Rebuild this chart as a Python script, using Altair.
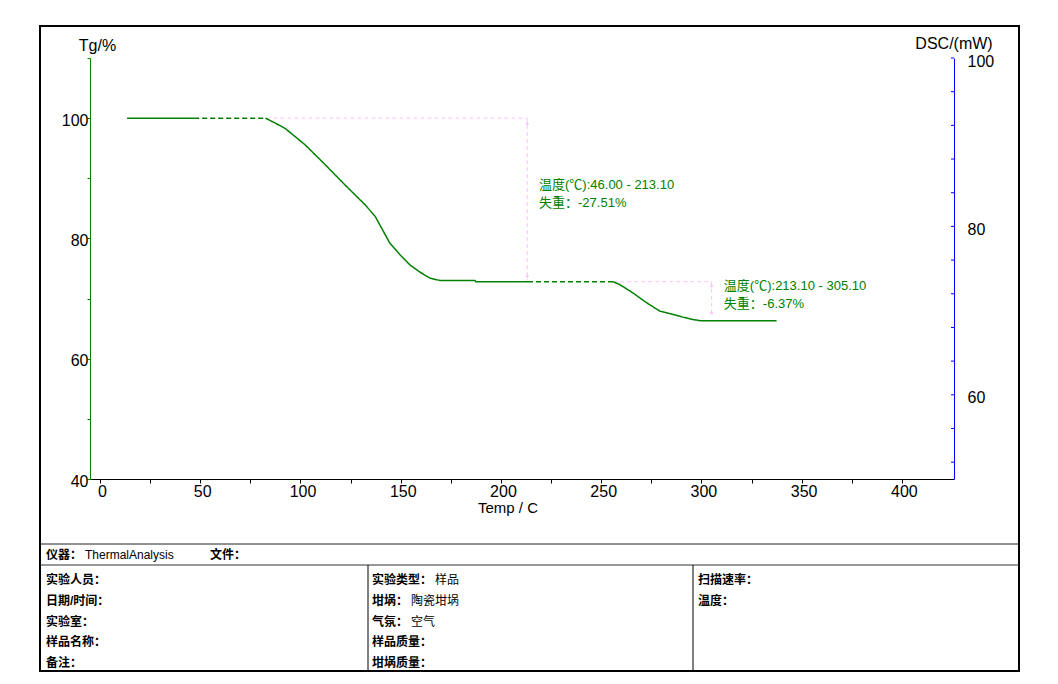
import altair as alt
import pandas as pd

# ---------------- data ----------------
# Tg curve, split in solid / dashed pieces (Temp in C, Tg in %)
seg1_T = [13.5, 47.0]
seg1_Tg = [100.0, 100.0]
seg2_T = [47.0, 82.5]
seg2_Tg = [100.0, 100.0]
seg3_T = [82.5, 87.3, 92.3, 102.2, 112.2, 117.2, 122.2, 132.2, 137.2, 140.5,
          144.6, 149.6, 154.6, 159.6, 164.6, 169.6, 187.0, 187.5, 213.5]
seg3_Tg = [100.0, 99.2, 98.3, 95.6, 92.3, 90.6, 88.9, 85.6, 83.7, 81.7,
           79.2, 77.3, 75.6, 74.4, 73.4, 73.0, 73.0, 72.8, 72.8]
seg4_T = [213.5, 256.0]
seg4_Tg = [72.8, 72.8]
seg5_T = [256.0, 259.4, 266.0, 272.7, 279.3, 284.3, 290.9, 296.0, 300.0, 337.5]
seg5_Tg = [72.8, 72.3, 70.9, 69.3, 67.9, 67.5, 66.9, 66.5, 66.3, 66.3]
seg_styles = ["solid", "dash", "solid", "dash", "solid"]

# pink step guides of the two weight-loss steps
guide_T = [[83.0, 213.1], [213.1, 213.1], [256.0, 305.1], [305.1, 305.1]]
guide_Tg = [[100.0, 100.0], [100.0, 73.0], [72.8, 72.8], [72.8, 67.3]]
marker_T = [213.1, 213.1, 305.1, 305.1]
marker_Tg = [99.1, 73.7, 72.1, 67.6]

# annotations
annot_T = [219.0, 219.0, 311.2, 311.2]
annot_Tg = [88.9, 85.9, 72.1, 69.1]
annot_text = ["温度(℃):46.00 - 213.10", "失重：-27.51%",
              "温度(℃):213.10 - 305.10", "失重：-6.37%"]

# axes
x_ticks = list(range(0, 401, 25))
tg_ticks = list(range(40, 111, 10))
dsc_ticks = [52, 56, 60, 64, 68, 72, 76, 80, 84, 88, 92, 96, 100]
dsc_labels = [60, 80, 100]

# info table
head_labels = ["仪器：", "文件："]
head_values = ["ThermalAnalysis", ""]
col1_labels = ["实验人员：", "日期/时间：", "实验室：", "样品名称：", "备注："]
col1_values = ["", "", "", "", ""]
col2_labels = ["实验类型：", "坩埚：", "气氛：", "样品质量：", "坩埚质量："]
col2_values = ["样品", "陶瓷坩埚", "空气", "", ""]
col3_labels = ["扫描速率：", "温度："]
col3_values = ["", ""]

GREEN = "#008000"
PINK = "#ffc0ff"
BLUE = "#0000ff"
LAT = "Liberation Sans"
CJK = "Liberation Sans, Noto Sans CJK SC"

# ---------------- build tables ----------------
rows = []
for i, (ts, gs) in enumerate([(seg1_T, seg1_Tg), (seg2_T, seg2_Tg), (seg3_T, seg3_Tg),
                              (seg4_T, seg4_Tg), (seg5_T, seg5_Tg)]):
    for t, g in zip(ts, gs):
        rows.append({"T": t, "Tg": g, "seg": i, "style": seg_styles[i]})
curve_df = pd.DataFrame(rows)

grows = []
for i, (ts, gs) in enumerate(zip(guide_T, guide_Tg)):
    for t, g in zip(ts, gs):
        grows.append({"T": t, "Tg": g, "g": i})
guide_df = pd.DataFrame(grows)
marker_df = pd.DataFrame({"T": marker_T, "Tg": marker_Tg})
annot_df = pd.DataFrame({"T": annot_T, "Tg": annot_Tg, "txt": annot_text})

x_enc = alt.X("T:Q", scale=alt.Scale(domain=[-5, 426], nice=False, zero=False),
              axis=alt.Axis(values=x_ticks, labelExpr="datum.value % 50 == 0 ? datum.label : ''",
                            title=None, grid=False, domainColor="black", tickColor="black",
                            tickSize=4, labelFontSize=16, labelFont=LAT, labelColor="black",
                            labelPadding=0, labelOffset=2, labelFlush=False, labelOverlap=False))
y_enc = alt.Y("Tg:Q", scale=alt.Scale(domain=[40, 110], nice=False, zero=False),
              axis=alt.Axis(values=tg_ticks, labelExpr="datum.value % 20 == 0 ? datum.label : ''",
                            title=None, grid=False, domainColor=GREEN, tickColor=GREEN,
                            tickSize=3, labelFontSize=16, labelFont=LAT, labelColor="black",
                            labelPadding=-1, labelOffset=2, labelFlush=False, labelOverlap=False,
                            orient="left"))

curve = alt.Chart(curve_df).mark_line(color=GREEN, strokeWidth=1.5).encode(
    x=x_enc, y=y_enc, detail="seg:N",
    strokeDash=alt.StrokeDash("style:N", scale=alt.Scale(domain=["solid", "dash"], range=[[1, 0], [5, 3]]),
                              legend=None))
guides = alt.Chart(guide_df).mark_line(color=PINK, strokeWidth=1, strokeDash=[4, 3]).encode(
    x=x_enc, y=y_enc, detail="g:N")
markers = alt.Chart(marker_df).mark_point(shape="cross", filled=True, size=10, color=PINK, opacity=1).encode(
    x=x_enc, y=y_enc)
annots = alt.Chart(annot_df).mark_text(align="left", baseline="middle", fontSize=13, font=CJK, color=GREEN).encode(
    x=x_enc, y=y_enc, text="txt:N")

tg_layer = alt.layer(guides, curve, markers, annots)

dsc_layer = alt.Chart(pd.DataFrame({"dsc": dsc_ticks})).mark_rule(color=BLUE).encode(
    y=alt.Y("dsc:Q", scale=alt.Scale(domain=[50, 100], nice=False, zero=False),
            axis=alt.Axis(values=dsc_labels, orient="right", title=None, grid=False,
                          domainColor=BLUE, ticks=False, tickSize=0, labelPadding=13,
                          labelFontSize=16, labelFont=LAT, labelColor="black", labelOffset=3,
                          labelFlush=False)),
    x=alt.value(861), x2=alt.value(864))

one = pd.DataFrame({"k": [0]})


def rule(x1, x2, y1, y2, w=1, color="black"):
    return alt.Chart(one).mark_rule(color=color, strokeWidth=w).encode(
        x=alt.value(x1), x2=alt.value(x2), y=alt.value(y1), y2=alt.value(y2))


def txt(x, y, s, size=12, bold=False, font=CJK, align="left"):
    return alt.Chart(one).mark_text(text=s, align=align, baseline="middle", fontSize=size,
                                    fontWeight="bold" if bold else "normal", font=font,
                                    color="black").encode(x=alt.value(x), y=alt.value(y))


decor = []
decor.append(alt.Chart(one).mark_rect(fillOpacity=0, stroke="black", strokeWidth=2).encode(
    x=alt.value(-50), x2=alt.value(929), y=alt.value(-32), y2=alt.value(613)))
decor.append(rule(-50, 929, 486, 486, color="#222222"))
decor.append(rule(-50, 929, 507, 507, color="#333333"))
decor.append(rule(278, 278, 507, 613))
decor.append(rule(603, 603, 507, 613))

# axis titles
decor.append(txt(7.5, -12, "Tg/%", size=16, font=LAT, align="center"))
decor.append(txt(864, -14, "DSC/(mW)", size=16, font=LAT, align="center"))
decor.append(txt(418, 450, "Temp / C", size=15, font=LAT, align="center"))

# table texts
head_x = [-44, 120]
for hx, lab, val in zip(head_x, head_labels, head_values):
    decor.append(txt(hx, 497, lab, bold=True))
    if val:
        decor.append(txt(hx + 12 * len(lab) + 3, 497, val, font=CJK))
row_y0, row_dy = 522, 20.8
for cx, labs, vals in [(-44, col1_labels, col1_values), (282, col2_labels, col2_values),
                       (608, col3_labels, col3_values)]:
    for i, (lab, val) in enumerate(zip(labs, vals)):
        y = row_y0 + i * row_dy
        decor.append(txt(cx, y, lab, bold=True))
        if val:
            decor.append(txt(cx + 12 * len(lab) + 3, y, val))

chart = alt.layer(tg_layer, dsc_layer, *decor).resolve_scale(y="independent").properties(
    width=864, height=421,
    padding={"left": 82, "top": 50, "right": 70, "bottom": 193},
    autosize=alt.AutoSizeParams(type="none"),
    background="white",
).configure_view(stroke="transparent", strokeWidth=0)

chart.save("out.html", embed_options={"renderer": "svg", "actions": False})
